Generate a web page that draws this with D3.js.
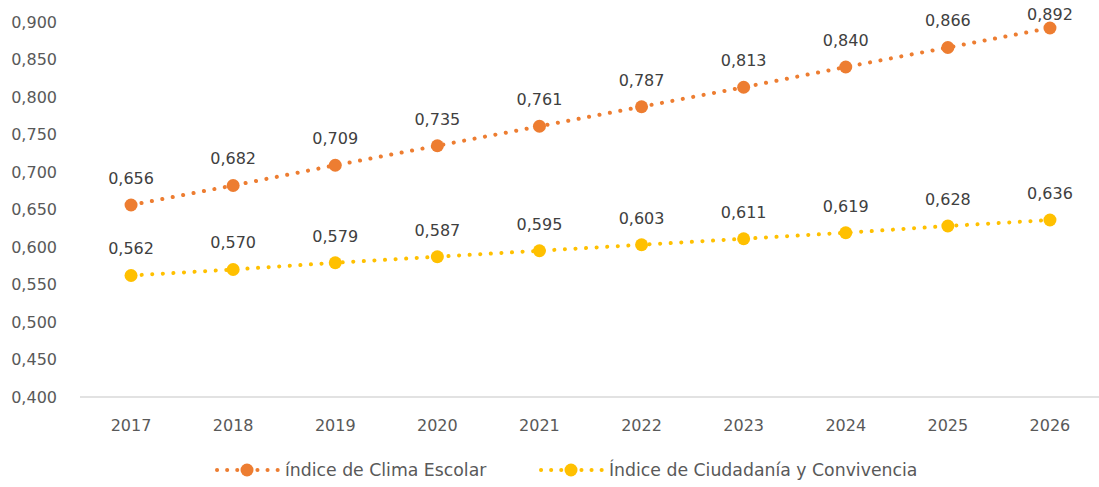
<!DOCTYPE html>
<html lang="es">
<meta charset="utf-8">
<style>
  body { margin: 0; background: #fff; }
  svg text { font-family: "DejaVu Sans", sans-serif; fill: #595959; }
  .lbl { fill: #404040; }
</style>
<div id="chart"></div>
<script src="https://d3js.org/d3.v7.min.js"></script>
<script>
  "use strict";

  const years = ["2017","2018","2019","2020","2021","2022","2023","2024","2025","2026"];
  const clima = [0.656, 0.682, 0.709, 0.735, 0.761, 0.787, 0.813, 0.840, 0.866, 0.892];
  const ciudadania = [0.562, 0.570, 0.579, 0.587, 0.595, 0.603, 0.611, 0.619, 0.628, 0.636];
  const yTicks = [0.400, 0.450, 0.500, 0.550, 0.600, 0.650, 0.700, 0.750, 0.800, 0.850, 0.900];
  const seriesNames = ["índice de Clima Escolar", "Índice de Ciudadanía y Convivencia"];
  const colors = ["#ED7D31", "#FFC000"];

  const width = 1099, height = 487;
  const svg = d3.select("#chart").append("svg")
    .attr("width", width).attr("height", height);

  const x = d3.scaleBand().domain(years).range([80, 1101]);
  const y = d3.scaleLinear().domain([0.4, 0.9]).range([397, 22]);
  const fmt = v => d3.format(".3f")(v).replace(".", ",");

  // y axis labels, no axis line
  svg.append("g").selectAll("text")
    .data(yTicks).join("text")
      .attr("x", 57).attr("y", d => y(d))
      .attr("dy", "0.36em")
      .attr("text-anchor", "end")
      .style("font-size", "16px")
      .text(fmt);

  // x axis
  svg.append("line")
    .attr("x1", 80).attr("x2", 1101)
    .attr("y1", y(0.4)).attr("y2", y(0.4))
    .attr("stroke", "#d9d9d9").attr("stroke-width", 1.5);

  svg.append("g").selectAll("text")
    .data(years).join("text")
      .attr("x", d => x(d) + x.bandwidth() / 2)
      .attr("y", 425).attr("dy", "0.36em")
      .attr("text-anchor", "middle")
      .style("font-size", "16px")
      .text(d => d);

  const line = d3.line()
    .x((d, i) => x(years[i]) + x.bandwidth() / 2)
    .y(d => y(d));

  [clima, ciudadania].forEach(function(vals, s) {
    const g = svg.append("g");
    g.append("path")
      .datum(vals)
      .attr("d", line)
      .attr("fill", "none")
      .attr("stroke", colors[s])
      .attr("stroke-width", 4)
      .attr("stroke-linecap", "round")
      .attr("stroke-dasharray", "0.1 10.5");
    g.selectAll("circle")
      .data(vals).join("circle")
        .attr("cx", (d, i) => x(years[i]) + x.bandwidth() / 2)
        .attr("cy", d => y(d))
        .attr("r", 6.5)
        .attr("fill", colors[s]);
    // value labels; the top one is kept inside the picture
    g.selectAll("text")
      .data(vals).join("text")
        .attr("class", "lbl")
        .attr("x", (d, i) => x(years[i]) + x.bandwidth() / 2)
        .attr("y", d => Math.max(14, y(d) - 27))
        .attr("dy", "0.36em")
        .attr("text-anchor", "middle")
        .style("font-size", "16px")
        .text(fmt);
  });

  // legend
  const legendX = [217, 541];
  seriesNames.forEach(function(name, s) {
    const lg = svg.append("g").attr("transform", "translate(" + legendX[s] + ",470)");
    lg.append("line")
      .attr("x1", 0).attr("x2", 61)
      .attr("stroke", colors[s]).attr("stroke-width", 4)
      .attr("stroke-linecap", "round")
      .attr("stroke-dasharray", "0.1 10");
    lg.append("circle").attr("cx", 30).attr("r", 6.5).attr("fill", colors[s]);
    lg.append("text")
      .attr("x", 68).attr("dy", "0.36em")
      .style("font-size", "17.3px")
      .text(name);
  });
</script>
</html>
